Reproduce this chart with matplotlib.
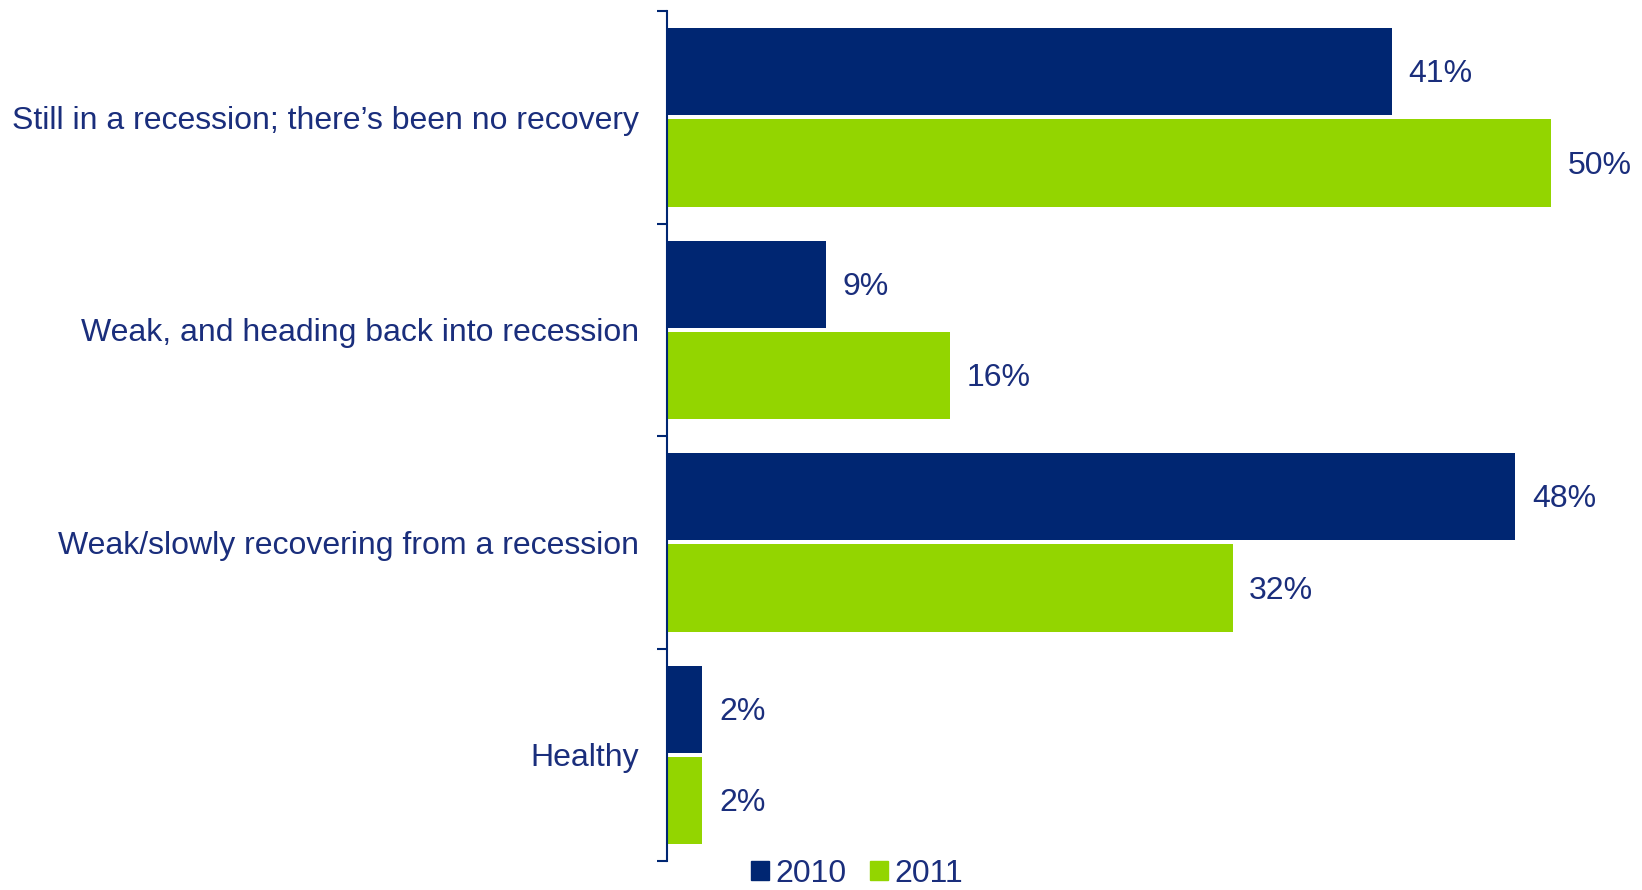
import matplotlib
matplotlib.use("Agg")
import matplotlib.pyplot as plt
from matplotlib.patches import Patch
import numpy as np

categories = [
    "Still in a recession; there\u2019s been no recovery",
    "Weak, and heading back into recession",
    "Weak/slowly recovering from a recession",
    "Healthy",
]
values_2010 = [41, 9, 48, 2]
values_2011 = [50, 16, 32, 2]
series_names = ["2010", "2011"]

NAVY = "#002672"
GREEN = "#93D500"
TEXT = "#1A2E7C"
FS = 23

plt.rcParams["font.family"] = ["Liberation Sans", "DejaVu Sans"]

fig = plt.figure(figsize=(16.42, 8.90), dpi=100)
ax = fig.add_axes([667 / 1642, 29 / 890, (1639 - 667) / 1642, (879 - 29) / 890])

y = np.arange(len(categories))
h = 0.41
off = 0.215
b1 = ax.barh(y - off, values_2010, height=h, color=NAVY)
b2 = ax.barh(y + off, values_2011, height=h, color=GREEN)

for bars, vals in ((b1, values_2010), (b2, values_2011)):
    for rect, v in zip(bars, vals):
        ax.annotate(f"{v}%", (rect.get_width(), rect.get_y() + rect.get_height() / 2),
                    xytext=(12, -2), textcoords="offset points",
                    va="center", ha="left", fontsize=FS, color=TEXT)

ax.set_xlim(0, 55)
ax.set_ylim(len(categories) - 0.5, -0.5)

for s in ("top", "right", "bottom"):
    ax.spines[s].set_visible(False)
ax.spines["left"].set_color(NAVY)
ax.spines["left"].set_linewidth(1.5)

ax.set_xticks([])
ax.set_yticks(np.arange(-0.5, len(categories), 1.0))
ax.set_yticklabels([])
ax.tick_params(axis="y", which="major", length=7, width=1.5, color=NAVY)
ax.set_yticks(y, minor=True)
ax.set_yticklabels(categories, minor=True, fontsize=FS, color=TEXT)
ax.tick_params(axis="y", which="minor", length=0, pad=20)

handles = [Patch(color=NAVY), Patch(color=GREEN)]
fig.legend(handles, series_names, loc="center", bbox_to_anchor=(857 / 1642, 1 - 874 / 890),
           ncol=2, frameon=False, fontsize=FS, labelcolor=TEXT,
           handlelength=0.55, handleheight=0.55, handletextpad=0.2,
           columnspacing=0.75, borderpad=0, borderaxespad=0)

fig.savefig("out.png", dpi=100)
